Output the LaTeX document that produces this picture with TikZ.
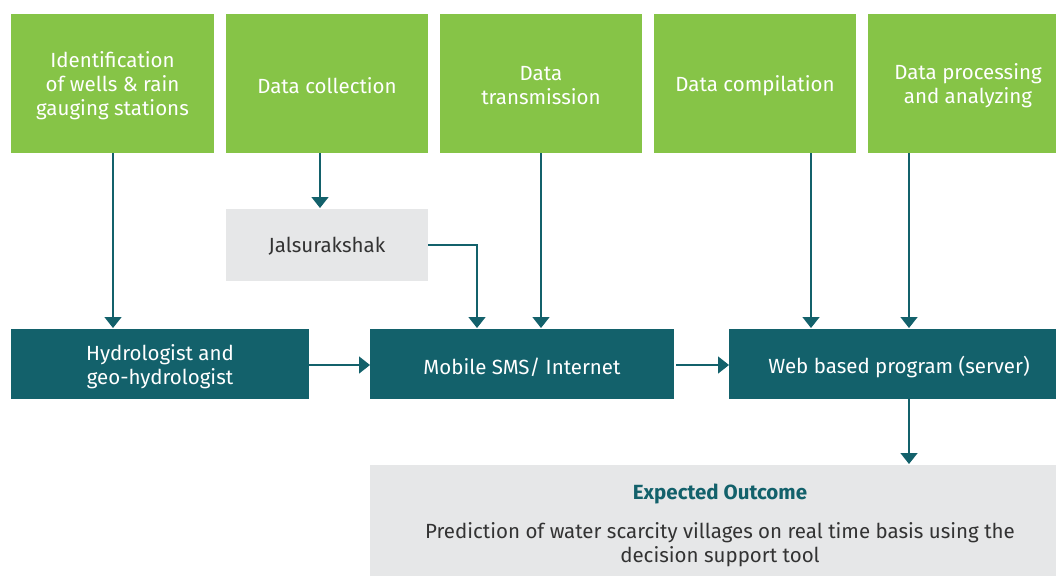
\documentclass[tikz,border=0pt]{standalone}
\usepackage{fontspec}
\setmainfont{Fira Sans}
\usetikzlibrary{arrows.meta}
\definecolor{lgreen}{HTML}{86C447}
\definecolor{teal1}{HTML}{13616B}
\definecolor{lgray}{HTML}{E6E7E8}
\definecolor{dtext}{HTML}{333333}
\begin{document}
\begin{tikzpicture}[x=1pt,y=-1pt,
  every node/.style={inner sep=0pt, outer sep=0pt},
  txt/.style={font=\fontsize{20.5}{24}\selectfont},
  gbox/.style={txt, text=white, align=center},
  tbox/.style={txt, text=white, align=center},
  jbox/.style={txt, text=dtext, align=center},
  arr/.style={draw=teal1, line width=1.5pt, -{Triangle[width=17pt,length=11pt]}}]
\useasboundingbox (0,0) rectangle (1056,576);
% green boxes
\path[fill=lgreen] (11,14) rectangle (214,153);
\node[gbox] (g1) at (112.5,86) {Identification\\of wells \& rain\\gauging stations};
\path[fill=lgreen] (226,14) rectangle (428,153);
\node[gbox] (g2) at (327,86) {Data collection};
\path[fill=lgreen] (440,14) rectangle (642,153);
\node[gbox] (g3) at (541,86) {Data\\transmission};
\path[fill=lgreen] (654,14) rectangle (856,153);
\node[gbox] (g4) at (755,86) {Data compilation};
\path[fill=lgreen] (868,14) rectangle (1056,153);
\node[gbox] (g5) at (968,86) {Data processing\\and analyzing};
% jalsurakshak
\path[fill=lgray] (226,209) rectangle (428,281);
\node[jbox] (j) at (327,246) {Jalsurakshak};
% teal boxes
\path[fill=teal1] (11,329) rectangle (309,399);
\node[tbox] (ta) at (160,367) {Hydrologist and\\geo-hydrologist};
\path[fill=teal1] (370,329) rectangle (674,399);
\node[tbox] (tb) at (522,367) {Mobile SMS/ Internet};
\path[fill=teal1] (729,329) rectangle (1056,399);
\node[tbox] (tc) at (899,367) {Web based program (server)};
% outcome
\path[fill=lgray] (370,465) rectangle (1056,576);
\node[font={\fontsize{20.5}{24}\selectfont\bfseries}, text=teal1] (oh) at (720,494) {Expected Outcome};
\node[txt, text=dtext, align=center] (ob) at (720,545) {Prediction of water scarcity villages on real time basis using the\\decision support tool};
% connectors
\coordinate (a1s) at (113,153); \coordinate (a1e) at (113,328);
\draw[arr] (a1s) -- (a1e);
\coordinate (a2s) at (320,153); \coordinate (a2e) at (320,208);
\draw[arr] (a2s) -- (a2e);
\coordinate (j1) at (428,245); \coordinate (j2) at (477,245); \coordinate (j3) at (477,328);
\draw[arr] (j1) -- (j2) -- (j3);
\coordinate (a3s) at (541,153); \coordinate (a3e) at (541,328);
\draw[arr] (a3s) -- (a3e);
\coordinate (a4s) at (811,153); \coordinate (a4e) at (811,328);
\draw[arr] (a4s) -- (a4e);
\coordinate (a5s) at (909,153); \coordinate (a5e) at (909,328);
\draw[arr] (a5s) -- (a5e);
\coordinate (h1s) at (309,365); \coordinate (h1e) at (370,365);
\draw[arr] (h1s) -- (h1e);
\coordinate (h2s) at (676,365); \coordinate (h2e) at (729,365);
\draw[arr] (h2s) -- (h2e);
\coordinate (vs) at (909,399); \coordinate (ve) at (909,464);
\draw[arr] (vs) -- (ve);
\end{tikzpicture}
\end{document}
